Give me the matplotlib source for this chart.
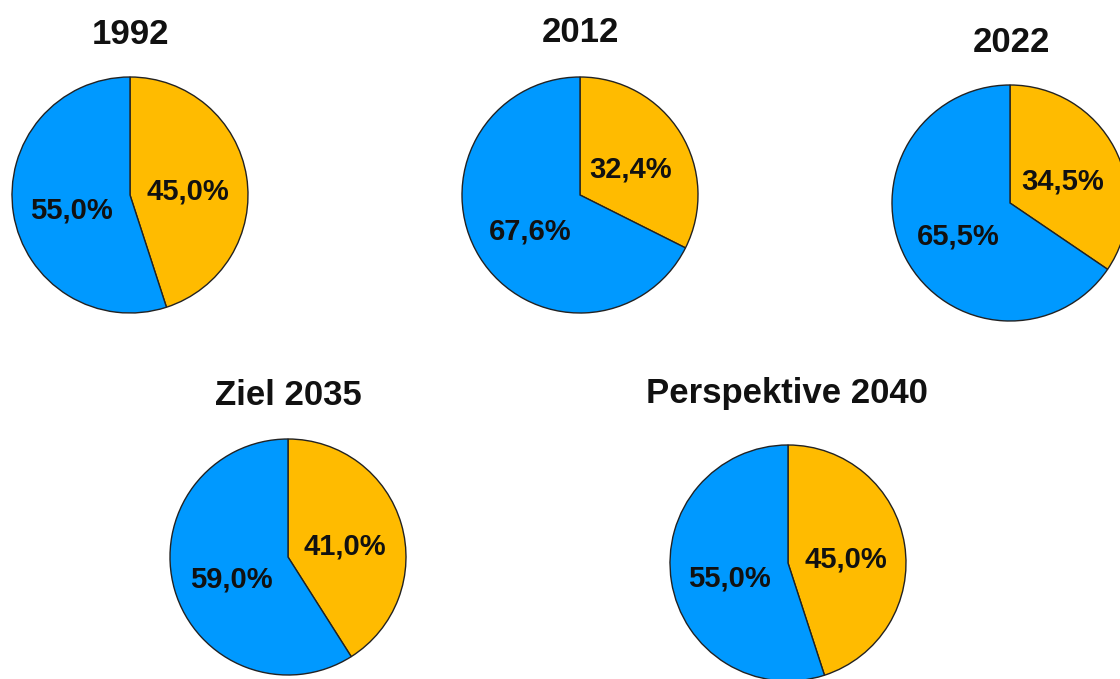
import matplotlib.pyplot as plt

plt.rcParams['font.family'] = ['Liberation Sans', 'DejaVu Sans']

# Share of the two parts per year (orange first, drawn clockwise from 12 o'clock)
titles = ["1992", "2012", "2022", "Ziel 2035", "Perspektive 2040"]
orange_share = [45.0, 32.4, 34.5, 41.0, 45.0]
blue_share = [55.0, 67.6, 65.5, 59.0, 55.0]

colors = ["#ffbb00", "#0099ff"]

W, H = 1120, 679
fig = plt.figure(figsize=(W / 100, H / 100), dpi=100)

# pie centres, radius and title positions in pixels
centres = [(130, 195), (580, 195), (1010, 203), (288, 557), (788, 563)]
title_pos = [(130, 35), (580, 33), (1011, 42), (288, 395), (787, 393)]
r = 118


def fmt(p):
    return f"{p:.1f}%".replace(".", ",")


for name, o, b, (cx, cy), (tx, ty) in zip(titles, orange_share, blue_share,
                                           centres, title_pos):
    ax = fig.add_axes([(cx - r) / W, 1 - (cy + r) / H, 2 * r / W, 2 * r / H])
    wedges, texts, autotexts = ax.pie(
        [o, b], colors=colors, startangle=90, counterclock=False,
        autopct=fmt, pctdistance=0.5,
        wedgeprops=dict(edgecolor="#222222", linewidth=1.0),
        textprops=dict(fontsize=21, fontweight="bold", color="#111111"))
    for w in wedges:
        w.set_clip_on(False)
    # nudge the percentages a little lower
    for t in autotexts:
        x, y = t.get_position()
        t.set_position((x, y - 0.05))
    ax.set_xlim(-1, 1)
    ax.set_ylim(-1, 1)
    ax.set_aspect("equal")
    ax.axis("off")
    fig.text(tx / W, 1 - ty / H, name, ha="center", va="center",
             fontsize=25, fontweight="bold", color="#111111")

fig.savefig("out.png", dpi=100, facecolor="white")
